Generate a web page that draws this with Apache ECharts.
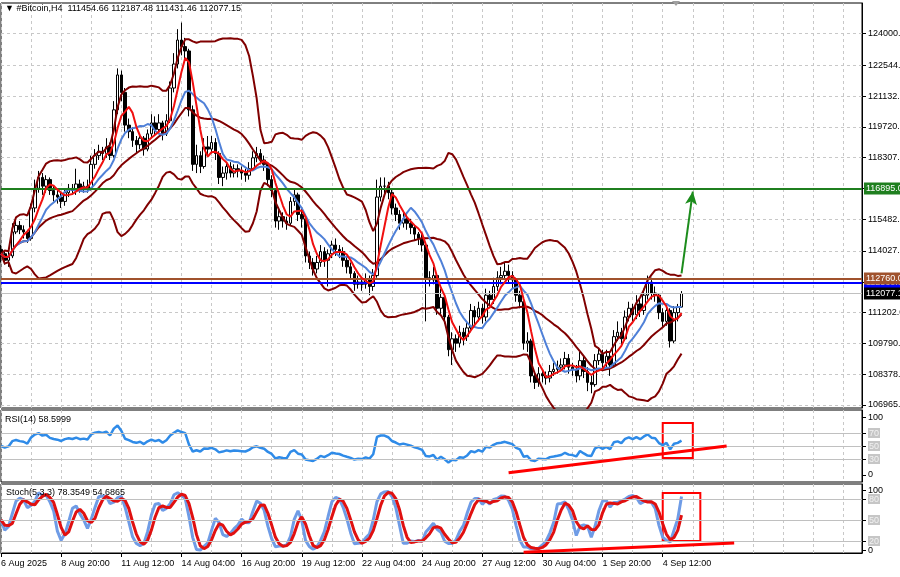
<!DOCTYPE html>
<html><head><meta charset="utf-8">
<script src="https://cdn.jsdelivr.net/npm/echarts@6/dist/echarts.min.js"></script>
<style>html,body{margin:0;padding:0;background:#fff}#c{width:900px;height:577px}</style>
</head><body><div id="c"></div>
<script>
// ---- data (H4 candles) ----
const opens = [114100,113900,113600,113800,114900,115200,115000,114900,114600,116000,
116900,117400,117000,117300,116800,116600,116500,116300,116700,116900,
116800,117100,116900,117000,116900,118000,118400,118600,118500,118800,
118400,120500,122100,121300,119800,119500,119100,118900,119200,118700,
119400,119900,119600,119900,119400,120000,121500,122600,123700,123400,
123200,120500,118000,118400,117900,118800,118700,119000,118500,117400,
117600,117900,117600,117800,117700,117600,117500,117800,118300,118500,
118200,118000,117300,116800,115400,115600,115400,115300,116300,116600,
115700,115500,113800,113500,113200,113500,114000,113600,113900,114300,
114100,114000,113600,113300,113000,112500,112600,112500,112700,112400,
112900,116500,117000,117000,116700,116000,115700,115300,115500,115300,
115100,114800,114600,114300,112800,112700,112900,111400,111900,111000,
109500,110000,109800,110300,110100,110500,111300,111000,111400,111000,
112000,111800,112400,112800,112900,113100,112900,112700,112000,111700,
109800,109900,108300,108000,108400,108300,108200,108500,108600,108700,
108800,109100,108700,108600,108300,109000,108500,108000,107900,109000,
109300,108900,109200,108800,110100,110300,110000,111000,111400,111100,
111600,111300,112000,112600,112100,112000,111200,110800,111300,109900,
111200,111454.66];
const closes = [113900,113600,113800,114900,115200,115000,114900,114600,116000,116900,
117400,117000,117300,116800,116600,116500,116300,116700,116900,116800,
117100,116900,117000,116900,118000,118400,118600,118500,118800,118400,
120500,122100,121300,119800,119500,119100,118900,119200,118700,119400,
119900,119600,119900,119400,120000,121500,122600,123700,123400,123200,
120500,118000,118400,117900,118800,118700,119000,118500,117400,117600,
117900,117600,117800,117700,117600,117500,117800,118300,118500,118200,
118000,117300,116800,115400,115600,115400,115300,116300,116600,115700,
115500,113800,113500,113200,113500,114000,113600,113900,114300,114100,
114000,113600,113300,113000,112500,112600,112500,112700,112400,112900,
116500,117000,117000,116700,116000,115700,115300,115500,115300,115100,
114800,114600,114300,112800,112700,112900,111400,111900,111000,109500,
110000,109800,110300,110100,110500,111300,111000,111400,111000,112000,
111800,112400,112800,112900,113100,112900,112700,112000,111700,109800,
109900,108300,108000,108400,108300,108200,108500,108600,108700,108800,
109100,108700,108600,108300,109000,108500,108000,107900,109000,109300,
108900,109200,108800,110100,110300,110000,111000,111400,111100,111600,
111300,112000,112600,112100,112000,111200,110800,111300,109900,111200,
111454.66,112077.15];
const lows = [113500,113400,113300,113700,114800,114800,114600,114400,114500,115800,
116700,116600,116700,116600,116300,116200,116000,116100,116500,116600,
116600,116700,116700,116700,116800,117800,118200,118200,118300,118200,
118300,120300,120900,119500,119200,118800,118500,118700,118400,118600,
119200,119300,119400,119100,119300,119900,121300,122400,123000,122700,
120200,117700,117600,117600,117800,118400,118500,118200,117100,117000,
117300,117400,117400,117400,117300,117200,117300,117700,118100,118000,
117700,117000,116500,115100,115000,115100,115000,115200,116100,115400,
115100,113500,113200,112900,113000,113300,113300,112400,113700,113800,
113700,113300,113000,112700,112200,112300,112200,112300,112000,112200,
112800,116300,116600,116400,115700,115400,115000,115100,115000,114800,
114500,114300,114000,110800,112400,112500,111100,111100,110700,109200,
108800,109400,109600,109700,109900,110300,110600,110800,110700,110800,
111500,111600,112200,112500,112700,112600,112300,111700,111400,109500,
109400,108000,107700,107800,108000,107900,108000,108300,108400,108500,
108600,108400,108300,108000,108100,108200,107600,107500,107800,108800,
108600,108700,108300,108700,109900,109700,109900,110800,110800,110900,
111000,111100,111800,111800,111700,110900,110500,110600,109600,109800,
110800,111431.46];
const highs = [114300,114000,114000,115300,115500,115400,115200,115000,116200,117300,
117700,117600,117500,117400,117000,116900,116700,116900,117100,117100,
117800,117300,117200,117300,118400,118700,118900,118800,119200,119000,
120900,122400,122300,121500,120100,119700,119300,119400,119300,119600,
120300,120200,120300,120000,120300,121800,123100,124200,124500,123800,
123300,120700,118900,118600,119200,119300,119300,119200,118600,117900,
118100,118100,118000,118000,117900,117800,118100,118600,118800,118700,
118400,118100,117500,116900,115900,115800,115600,116500,116900,116700,
116000,115600,114000,113700,113800,114300,114200,114100,114500,114600,
114300,114200,113800,113500,113100,112900,112800,113000,112900,113200,
117300,117400,117400,117200,116900,116200,115900,115800,115700,115500,
115200,114900,114800,114400,113100,113300,113000,112300,112000,111100,
110300,110200,110600,110500,110800,111600,111500,111700,111600,112300,
112200,112800,113100,113300,113500,113400,113100,112800,112200,111800,
110300,110000,108500,108700,108600,108500,108800,108900,109000,109100,
109400,109300,108900,108800,109400,109200,108700,108300,109300,109600,
109500,109500,109400,110400,110800,110500,111300,111700,111600,112000,
111800,112300,112900,112800,112400,112100,111400,111600,111400,111500,
111600,112187.48];

const dateTicks = ['6 Aug 2025','8 Aug 20:00','11 Aug 12:00','14 Aug 04:00','16 Aug 20:00','19 Aug 12:00',
  '22 Aug 04:00','24 Aug 20:00','27 Aug 12:00','30 Aug 04:00','1 Sep 20:00','4 Sep 12:00'];
const priceTicks = [106965,108378,109790,111202,112614,114027,115482,116895,118307,119720,121132,122544,124000];
const priceTickLabels = ['106965.00','108378.00','109790.00','111202.00','112614.00','114027.00','115482.00',
  '116895.00','118307.00','119720.00','121132.00','122544.00','124000.00'];
const levelGreen = 116895, levelBrown = 112760, levelBlue = 112560, bidPrice = 112077.15;
const headerText = '\u25BC #Bitcoin,H4  111454.66 112187.48 111431.46 112077.15';
const rsiText = 'RSI(14) 58.5999';
const stochText = 'Stoch(5,3,3) 78.3549 54.6865';
const TOTAL_SLOTS = 230;

// ---- indicators computed from the candles ----
function sma(a,p){return a.map((_,i)=>{const s=Math.max(0,i-p+1);let t=0;for(let j=s;j<=i;j++)t+=a[j];return t/(i-s+1);});}
function bands(a,p,d){const m=sma(a,p),u=[],l=[];a.forEach((_,i)=>{const s=Math.max(0,i-p+1);let v=0;for(let j=s;j<=i;j++)v+=(a[j]-m[i])**2;const sd=Math.sqrt(v/(i-s+1));u.push(m[i]+d*sd);l.push(m[i]-d*sd);});return {m,u,l};}
function rsiCalc(a,p){let seed=0;for(let i=1;i<=p;i++)seed+=Math.abs(a[i]-a[i-1]);seed/=p*2;let ag=seed,al=seed;const out=[50];
  for(let i=1;i<a.length;i++){const ch=a[i]-a[i-1];ag=(ag*(p-1)+Math.max(ch,0))/p;al=(al*(p-1)+Math.max(-ch,0))/p;out.push(al===0?100:100-100/(1+ag/al));}return out;}
function stochCalc(c,h,l,kp,sl,dp){const num=[],den=[];for(let i=0;i<c.length;i++){const s=Math.max(0,i-kp+1);let hh=-Infinity,ll=Infinity;for(let j=s;j<=i;j++){hh=Math.max(hh,h[j]);ll=Math.min(ll,l[j]);}num.push(c[i]-ll);den.push(hh-ll);}
  const k=c.map((_,i)=>{const s=Math.max(0,i-sl+1);let a=0,b=0;for(let j=s;j<=i;j++){a+=num[j];b+=den[j];}return b===0?50:100*a/b;});return {k,d:sma(k,dp)};}

const bb = bands(closes,20,2);
const ma5 = sma(closes,5), ma10 = sma(closes,10);
const rsi = rsiCalc(closes,14);
const st = stochCalc(closes,highs,lows,5,3,3);
const r2 = a=>a.map(v=>+v.toFixed(2));

const cats = Array.from({length:TOTAL_SLOTS},(_,i)=>String(i));
const candles = closes.map((c,i)=>[opens[i],c,lows[i],highs[i]]);
const FONT = 'Liberation Sans';
const gridLine = {show:true,interval:(i)=>i%8===0,lineStyle:{color:'#c8c8c8',type:[3,3],width:1}};
function xAx(g,bottom){return {type:'category',data:cats,gridIndex:g,boundaryGap:false,
  axisLine:{show:bottom,lineStyle:{color:'#000'}},
  axisTick:{show:bottom,alignWithLabel:true,interval:(i)=>i%16===0&&i<=176,length:4,lineStyle:{color:'#000'}},
  axisLabel:{show:bottom,interval:(i)=>i%16===0&&i<=176,formatter:(v)=>dateTicks[Number(v)/16]||'',align:'left',margin:6,fontSize:9,fontFamily:FONT,color:'#000',hideOverlap:false},
  splitLine:gridLine};}
const lvLabel = {show:true,position:'end',distance:2,fontSize:9,fontFamily:FONT,color:'#fff',padding:[2,2,1,2]};
const lineS = (name,data,color,w,xi,yi,z)=>({name,type:'line',data:r2(data),xAxisIndex:xi,yAxisIndex:yi,showSymbol:false,symbol:'none',
  lineStyle:{color,width:w},itemStyle:{color},z:z||3,silent:true});

const rsiLabelMap = {'94.6':'100','70':'{lv|70}','50':'{lv|50}','30':'{lv|30}','5.4':'0'};
const stLabelMap = {'80':'{lv|80}','50':'{lv|50}','20':'{lv|20}'};
const stEdgeMap = {'92.8':'100','7.1':'0'};
const lvRich = {lv:{backgroundColor:'#c6c6c6',color:'#f2f2f2',padding:[1,1,0,1],fontSize:9,fontFamily:FONT}};
const gridBase = {left:1,right:38,show:true,borderColor:'#000',borderWidth:1,containLabel:false,outerBoundsMode:'none'};

const option = {
  animation:false,
  backgroundColor:'#fff',
  grid:[
    Object.assign({top:3,height:405,backgroundColor:'#fff'},gridBase),
    Object.assign({top:410,height:72},gridBase),
    Object.assign({top:484,height:69},gridBase)
  ],
  xAxis:[xAx(0,false),xAx(1,false),xAx(2,true)],
  yAxis:[
    {type:'value',gridIndex:0,position:'right',min:106827,max:125399,scale:true,
      axisLine:{show:true,lineStyle:{color:'#000'}},
      axisTick:{show:true,length:4,customValues:priceTicks,lineStyle:{color:'#000'}},
      axisLabel:{customValues:priceTicks,hideOverlap:false,formatter:(v)=>{const i=priceTicks.indexOf(Math.round(v));return i>=0?priceTickLabels[i]:'';},margin:6,fontSize:9,fontFamily:FONT,color:'#000'},
      splitLine:{show:true,customValues:priceTicks,lineStyle:{color:'#c8c8c8',type:[3,3]}}},
    {type:'value',gridIndex:1,position:'right',min:-5.4,max:105.4,
      axisLine:{show:true,lineStyle:{color:'#000'}},
      axisTick:{show:true,length:4,customValues:[94.6,70,50,30,5.4],lineStyle:{color:'#000'}},
      axisLabel:{customValues:[94.6,70,50,30,5.4],hideOverlap:false,formatter:(v)=>rsiLabelMap[String(+v.toFixed(1))]||'',margin:6,fontSize:9,fontFamily:FONT,color:'#000',rich:lvRich},
      splitLine:{show:false}},
    {type:'value',gridIndex:2,position:'right',min:2.86,max:101.4,
      axisLine:{show:true,lineStyle:{color:'#000'}},
      axisTick:{show:true,length:4,customValues:[80,50,20],lineStyle:{color:'#000'}},
      axisLabel:{customValues:[80,50,20],hideOverlap:false,formatter:(v)=>stLabelMap[String(+v.toFixed(1))]||'',margin:6,fontSize:9,fontFamily:FONT,color:'#000',rich:lvRich},
      splitLine:{show:false}},
    {type:'value',gridIndex:2,position:'right',min:2.86,max:101.4,
      axisLine:{show:false},
      axisTick:{show:true,length:4,customValues:[92.8,7.1],lineStyle:{color:'#000'}},
      axisLabel:{customValues:[92.8,7.1],hideOverlap:false,formatter:(v)=>stEdgeMap[String(+v.toFixed(1))]||'',margin:6,fontSize:9,fontFamily:FONT,color:'#000'},
      splitLine:{show:false}}
  ],
  series:[
    {name:'levels',type:'line',data:cats.map(()=>null),xAxisIndex:0,yAxisIndex:0,symbol:'none',z:1,silent:true,
      markLine:{silent:true,symbol:'none',animation:false,data:[
        {yAxis:levelBlue,lineStyle:{color:'#0000ff',width:2,type:'solid'},label:Object.assign({},lvLabel,{formatter:'112560.00',backgroundColor:'#0000ff'})},
        {yAxis:bidPrice,lineStyle:{color:'#c0c0c0',width:1,type:'solid'},label:Object.assign({},lvLabel,{formatter:'112077.15',backgroundColor:'#000'})},
        {yAxis:levelBrown,lineStyle:{color:'#a0522d',width:2,type:'solid'},label:Object.assign({},lvLabel,{formatter:'112760.00',backgroundColor:'#a0522d'})},
        {yAxis:levelGreen,lineStyle:{color:'#1f7f1f',width:2,type:'solid'},label:Object.assign({},lvLabel,{formatter:'116895.00',backgroundColor:'#1f7f1f'})}
      ]}},
    {name:'candles',type:'candlestick',data:candles,xAxisIndex:0,yAxisIndex:0,barWidth:3,z:2,silent:true,
      itemStyle:{color:'#ffffff',color0:'#000000',borderColor:'#000000',borderColor0:'#000000',borderWidth:1}},
    lineS('bbUp',bb.u,'#800000',2,0,0,3),
    lineS('bbMid',bb.m,'#800000',2,0,0,3),
    lineS('bbLow',bb.l,'#800000',2,0,0,3),
    lineS('ma10',ma10,'#4f80d8',2,0,0,4),
    Object.assign(lineS('ma5',ma5,'#f01010',2,0,0,5),{
      markLine:{silent:true,animation:false,symbol:['none','arrow'],symbolSize:[9,13],label:{show:false},
        lineStyle:{color:'#1c8c1c',width:2,type:'solid'},
        data:[[{coord:['181',113000]},{coord:['184',116750]}]]}}),
    {name:'rsiLevels',type:'line',data:cats.map(()=>null),xAxisIndex:1,yAxisIndex:1,symbol:'none',z:1,silent:true,
      markLine:{silent:true,symbol:'none',label:{show:false},lineStyle:{color:'#c0c0c0',width:1,type:'solid'},data:[{yAxis:70},{yAxis:50},{yAxis:30}]}},
    Object.assign(lineS('rsi',rsi,'#2f8be8',2.5,1,1,3),{
      markLine:{silent:true,symbol:'none',label:{show:false},lineStyle:{color:'#ff0000',width:3,type:'solid'},
        data:[[{coord:['135',8.8]},{coord:['193',50]}]]},
      markArea:{silent:true,itemStyle:{color:'rgba(0,0,0,0)',borderColor:'#ff0000',borderWidth:2},
        data:[[{coord:['176',85.4]},{coord:['184',31.5]}]]}}),
    {name:'stLevels',type:'line',data:cats.map(()=>null),xAxisIndex:2,yAxisIndex:2,symbol:'none',z:1,silent:true,
      markLine:{silent:true,symbol:'none',label:{show:false},lineStyle:{color:'#c0c0c0',width:1,type:'solid'},data:[{yAxis:80},{yAxis:50},{yAxis:20}]}},
    lineS('stK',st.k,'#6f9ce6',3,2,2,3),
    Object.assign(lineS('stD',st.d,'#e01010',3,2,2,4),{
      markLine:{silent:true,symbol:'none',label:{show:false},lineStyle:{color:'#ff0000',width:3,type:'solid'},
        data:[[{coord:['139',4]},{coord:['195',17]}]]},
      markArea:{silent:true,itemStyle:{color:'rgba(0,0,0,0)',borderColor:'#ff0000',borderWidth:2},
        data:[[{coord:['176',88.6]},{coord:['186',20]}]]}})
  ],
  graphic:[
    {type:'text',left:5,top:4,z:100,style:{text:headerText,font:'9px "Liberation Sans"',fill:'#000'}},
    {type:'text',left:5,top:415,z:100,style:{text:rsiText,font:'9px "Liberation Sans"',fill:'#000'}},
    {type:'text',left:6,top:488,z:100,style:{text:stochText,font:'9px "Liberation Sans"',fill:'#000'}},
    {type:'polygon',z:100,shape:{points:[[672,1],[680,1],[676,6]]},style:{fill:'#a0a0a0'}}
  ]
};
const chart = echarts.init(document.getElementById('c'),null,{renderer:'canvas'});
chart.setOption(option);
</script></body></html>
